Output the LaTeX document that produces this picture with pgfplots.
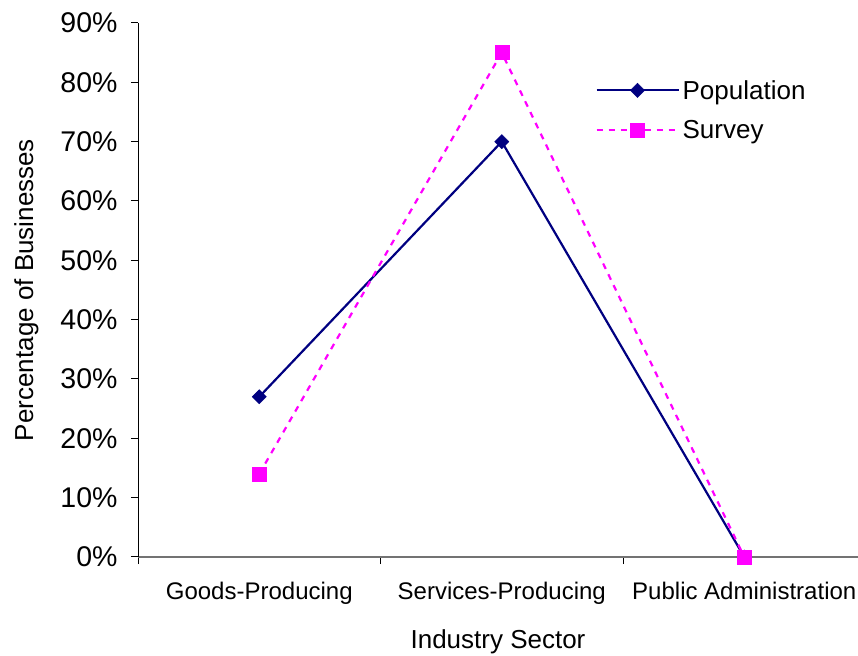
\documentclass[border=0pt]{standalone}
\usepackage{fontspec}
\setmainfont{Liberation Sans}
\usepackage{pgfplots}
\pgfplotsset{compat=1.18}
\definecolor{popblue}{RGB}{0,0,128}
\definecolor{survmag}{RGB}{255,0,255}

\begin{document}
\begin{tikzpicture}[x=1pt,y=1pt]
\begin{axis}[
  at={(138pt,98pt)}, anchor=south west,
  scale only axis, width=720pt, height=534pt,
  xmin=-0.5, xmax=2.469, ymin=0, ymax=90,
  axis x line*=bottom, axis y line*=left,
  x axis line style={draw=gray!90!black, line width=1.5pt},
  y axis line style={draw=black, line width=1pt},
  clip=false,
  xtick={0,1,2},
  xticklabels={Goods-Producing, Services-Producing, Public Administration},
  major x tick style={draw=none},
  minor xtick={-0.5,0.5,1.5},
  minor x tick style={draw=black, line width=0.8pt},
  minor tick length=7pt,
  ytick={0,10,...,90},
  yticklabel={\pgfmathprintnumber{\tick}\%},
  y tick style={draw=black, line width=1pt},
  major tick length=7pt,
  tick align=outside,
  /pgf/number format/assume math mode=true,
  yticklabel style={font=\fontsize{28.5}{30}\selectfont, xshift=-10pt},
  xticklabel style={font=\fontsize{24}{26}\selectfont, yshift=-15pt},
  xlabel={Industry Sector},
  ylabel={Percentage of Businesses},
  label style={font=\fontsize{26}{28}\selectfont},
  xlabel style={yshift=-18pt},
  ylabel style={yshift=15pt},
  legend style={draw=none, fill=none, at={(0.635,0.897)}, anchor=north west,
    font=\fontsize{26}{28}\selectfont, row sep=16pt, inner sep=0pt,
    legend cell align=left, nodes={inner xsep=3pt}},
  legend image code/.code={
    \draw[#1, mark=none] (0pt,0pt) -- (82pt,0pt);
    \draw[#1, only marks] plot coordinates {(41pt,0pt)};
  },
]
% share of businesses in each sector, per cent
\addplot[popblue, line width=2.2pt, mark=square*, mark size=5pt,
  mark options={solid, fill=popblue, line width=0.5pt, rotate=45}]
  coordinates {(0,27) (1,70) (2,0)};
\addlegendentry{Population}
\addplot[survmag, line width=2.2pt, dash pattern=on 6pt off 6pt, mark=square*, mark size=7pt,
  mark options={solid, fill=survmag, line width=0.5pt}]
  coordinates {(0,14) (1,85) (2,0)};
\addlegendentry{Survey}
\end{axis}
\pgfresetboundingbox
\path[use as bounding box] (0,0) rectangle (858pt,655pt);
\end{tikzpicture}
\end{document}
